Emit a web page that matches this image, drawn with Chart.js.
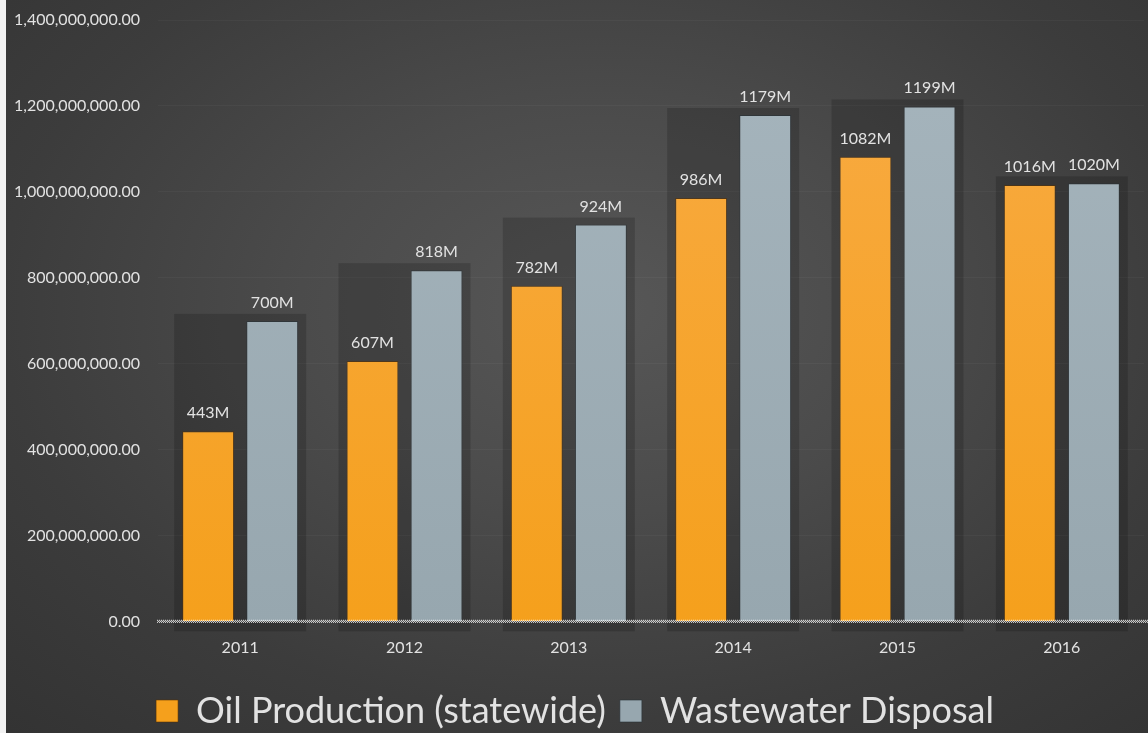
<!DOCTYPE html>
<html>
<head>
<meta charset="utf-8">
<script src="https://cdn.jsdelivr.net/npm/chart.js@4"></script>
<style>
  html, body { margin: 0; padding: 0; background: #f2f2f2; }
  #wrap {
    position: absolute; left: 6px; top: 0; width: 1142px; height: 733px;
    background: radial-gradient(ellipse 75% 80% at 52% 42%, #575757 0%, #4b4b4b 35%, #3c3c3c 70%, #333333 100%);
  }
</style>
</head>
<body>
<div id="wrap"><canvas id="myChart"></canvas></div>
<script>
const years = ['2011', '2012', '2013', '2014', '2015', '2016'];
const oilProduction = [443e6, 607e6, 782e6, 986e6, 1082e6, 1016e6];
const wastewater = [700e6, 818e6, 924e6, 1179e6, 1199e6, 1020e6];
const seriesNames = ['Oil Production (statewide)', 'Wastewater Disposal'];

const FONT = 'Lato, "Open Sans", sans-serif';
const TEXT = '#e2e2e2';

function barGradient(ctx, top, bottom) {
    const chart = ctx.chart;
    const area = chart.chartArea;
    if (!area) return top;
    const g = chart.ctx.createLinearGradient(0, area.top, 0, area.bottom);
    g.addColorStop(0, top);
    g.addColorStop(1, bottom);
    return g;
}

// dark box behind each pair of bars
const groupShadow = {
    id: 'groupShadow',
    beforeDatasetsDraw(chart) {
        const c = chart.ctx;
        const m0 = chart.getDatasetMeta(0), m1 = chart.getDatasetMeta(1);
        c.save();
        c.fillStyle = 'rgba(0,0,0,0.17)';
        m0.data.forEach((b0, i) => {
            const b1 = m1.data[i];
            const left = b0.x - b0.width / 2 - 8;
            const right = b1.x + b1.width / 2 + 8;
            const top = Math.min(b0.y, b1.y) - 7;
            const bottom = b0.base + 10;
            c.fillRect(left, top, right - left, bottom - top);
        });
        c.restore();
    }
};

// value labels + dotted zero line
const barLabels = {
    id: 'barLabels',
    afterDatasetsDraw(chart) {
        const c = chart.ctx;
        c.save();
        c.font = '16px ' + FONT;
        c.fillStyle = TEXT;
        c.textAlign = 'center';
        c.textBaseline = 'alphabetic';
        chart.data.datasets.forEach((ds, d) => {
            chart.getDatasetMeta(d).data.forEach((bar, i) => {
                c.fillText(Math.round(ds.data[i] / 1e6) + 'M', bar.x, bar.y - 13);
            });
        });
        const y0 = chart.scales.y.getPixelForValue(0);
        const x0 = chart.chartArea.left - 1;
        const x1 = chart.width;
        for (let r = 0; r < 3; r++) {
            for (let x = x0 + (r % 2); x < x1; x += 2) {
                c.fillStyle = 'rgba(255,255,255,0.9)';
                c.fillRect(x, y0 - 2 + r, 1, 1);
            }
        }
        c.restore();
    }
};

new Chart(document.getElementById('myChart'), {
    type: 'bar',
    data: {
        labels: years,
        datasets: [{
            label: seriesNames[0],
            data: oilProduction,
            backgroundColor: (ctx) => barGradient(ctx, '#f8ab45', '#f5a01c'),
            borderColor: 'rgba(90,50,0,0.55)',
            borderWidth: 1,
            categoryPercentage: 0.78,
            barPercentage: 0.81
        }, {
            label: seriesNames[1],
            data: wastewater,
            backgroundColor: (ctx) => barGradient(ctx, '#a6b5bd', '#97a7af'),
            borderColor: 'rgba(40,50,55,0.6)',
            borderWidth: 1,
            categoryPercentage: 0.78,
            barPercentage: 0.81
        }]
    },
    options: {
        responsive: true,
        maintainAspectRatio: false,
        animation: false,
        layout: { padding: { top: 20, right: 4, bottom: -6, left: 0 } },
        scales: {
            x: {
                afterFit: (scale) => { scale.height += 6; },
                grid: { display: false, drawTicks: false },
                border: { display: false },
                ticks: { color: TEXT, font: { family: FONT, size: 16 }, padding: 16 }
            },
            y: {
                min: 0,
                max: 1400000000,
                afterFit: (scale) => {
                    scale.width = 152;
                    scale.paddingTop = 0;
                    scale.paddingBottom = 0;
                },
                grid: { color: 'rgba(255,255,255,0.035)', drawTicks: false },
                border: { display: false },
                ticks: {
                    stepSize: 200000000,
                    color: TEXT,
                    padding: 18,
                    font: { family: FONT, size: 16 },
                    callback: (v) => v.toLocaleString('en-US', { minimumFractionDigits: 2, maximumFractionDigits: 2 })
                }
            }
        },
        plugins: {
            legend: {
                position: 'bottom',
                labels: {
                    color: TEXT,
                    font: { family: FONT, size: 36 },
                    boxWidth: 22,
                    boxHeight: 22,
                    padding: 14
                }
            },
            tooltip: { enabled: false }
        }
    },
    plugins: [groupShadow, barLabels]
});
</script>
</body>
</html>
